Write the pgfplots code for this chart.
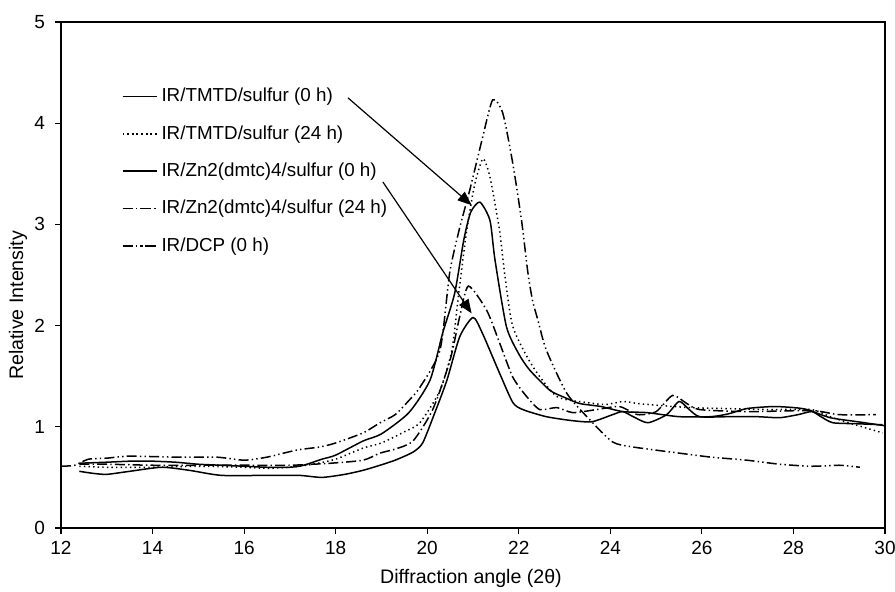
\documentclass[border=0pt]{standalone}
\usepackage{fontspec}
\setmainfont{Liberation Sans}
\usepackage{pgfplots}
\pgfplotsset{compat=1.18}
\usetikzlibrary{arrows.meta}
\begin{document}
\begin{tikzpicture}
\begin{axis}[name=ax,
  scale only axis, width=412pt, height=253pt,
  xmin=12, xmax=30, ymin=0, ymax=5,
  xtick={12,14,...,30}, ytick={0,1,2,3,4,5},
  tick pos=left, tick align=outside, major tick length=3pt,
  axis line style={line width=0.6pt}, every tick/.style={line width=0.6pt, black},
  /pgf/number format/assume math mode=true,
  tick label style={font=\fontsize{9.5}{11}\selectfont},
  yticklabel style={xshift=-1.5pt},
  label style={font=\fontsize{9.8}{11}\selectfont},
  xlabel={Diffraction angle (2θ)}, ylabel={Relative Intensity},
  xlabel style={at={(axis description cs:0.4976,-0.0988)}, anchor=center},
  ylabel style={at={(axis description cs:-0.052,0.44)}, anchor=center},
  legend style={at={(axis cs:13.19,4.43)}, anchor=north west, draw=none, fill=none,
    font=\fontsize{9.4}{11}\selectfont, row sep=6.4pt},
  legend cell align=left,
  every axis plot/.append style={black, line width=0.75pt, smooth, tension=0.4},
]
% IR/TMTD/sulfur (0 h)
\addplot[solid] coordinates {
(12.4,0.64)(13.0,0.65)(13.5,0.66)(14.0,0.66)(14.5,0.65)(15.0,0.63)(15.5,0.62)(16.0,0.61)(16.5,0.60)(17.0,0.60)(17.3,0.62)(17.7,0.68)(18.0,0.72)(18.6,0.86)(19.0,0.93)(19.6,1.14)(20.06,1.46)(20.34,1.93)(20.6,2.32)(20.8,2.85)(20.95,3.12)(21.15,3.22)(21.37,3.04)(21.48,2.65)(21.73,1.99)(22.0,1.72)(22.24,1.56)(22.68,1.36)(23.0,1.29)(23.33,1.23)(23.8,1.20)(24.27,1.15)(24.8,1.14)(25.5,1.10)(26.2,1.10)(26.6,1.13)(26.98,1.18)(27.55,1.20)(28.0,1.19)(28.3,1.17)(28.8,1.09)(29.4,1.05)(30.0,1.01)};
\addlegendentry{IR/TMTD/sulfur (0 h)}
% IR/TMTD/sulfur (24 h)
\addplot[dash pattern=on 0.7pt off 1.6pt] coordinates {
(12.4,0.61)(13.0,0.60)(14.0,0.60)(15.0,0.61)(16.0,0.60)(16.5,0.59)(17.0,0.60)(17.5,0.63)(18.0,0.68)(18.6,0.79)(19.0,0.84)(19.5,0.95)(19.84,1.04)(20.28,1.36)(20.54,1.76)(20.67,2.25)(20.85,2.90)(21.0,3.31)(21.08,3.47)(21.22,3.65)(21.37,3.47)(21.58,2.94)(21.69,2.52)(21.87,1.99)(22.3,1.60)(22.83,1.30)(23.48,1.24)(23.9,1.22)(24.27,1.25)(24.6,1.23)(25.1,1.21)(25.73,1.19)(26.5,1.18)(27.5,1.17)(28.4,1.17)(28.8,1.10)(29.2,1.04)(29.95,0.94)};
\addlegendentry{IR/TMTD/sulfur (24 h)}
% IR/Zn2(dmtc)4/sulfur (0 h)
\addplot[solid] coordinates {
(12.4,0.56)(12.7,0.54)(13.0,0.53)(13.5,0.56)(14.2,0.60)(14.8,0.57)(15.5,0.52)(16.5,0.52)(17.2,0.52)(17.7,0.50)(18.2,0.53)(18.6,0.57)(18.97,0.62)(19.3,0.67)(19.69,0.75)(19.9,0.84)(20.15,1.12)(20.43,1.46)(20.71,1.89)(21.0,2.08)(21.2,1.93)(21.58,1.53)(21.87,1.24)(22.09,1.17)(22.6,1.10)(23.18,1.06)(23.6,1.05)(24.05,1.12)(24.27,1.15)(24.5,1.10)(24.82,1.04)(25.23,1.12)(25.5,1.25)(25.7,1.18)(25.95,1.10)(26.6,1.10)(27.2,1.10)(27.7,1.09)(28.1,1.12)(28.4,1.15)(28.6,1.10)(28.86,1.04)(29.4,1.03)(29.95,1.02)};
\addlegendentry{IR/Zn2(dmtc)4/sulfur (0 h)}
% IR/Zn2(dmtc)4/sulfur (24 h)
\addplot[dash pattern=on 5pt off 1.6pt on 0.7pt off 1.6pt] coordinates {
(12.4,0.63)(13.0,0.63)(14.0,0.62)(15.0,0.62)(16.0,0.62)(17.0,0.62)(17.5,0.63)(17.9,0.64)(18.6,0.67)(18.97,0.74)(19.3,0.78)(19.69,0.86)(20.12,1.17)(20.5,1.66)(20.71,2.09)(20.9,2.39)(21.3,2.15)(21.58,1.83)(21.87,1.49)(22.17,1.30)(22.46,1.17)(22.83,1.19)(23.18,1.14)(23.7,1.17)(24.2,1.20)(24.6,1.12)(25.0,1.15)(25.36,1.31)(25.67,1.23)(25.95,1.17)(27.0,1.15)(28.4,1.16)(29.0,1.12)(29.8,1.12)};
\addlegendentry{IR/Zn2(dmtc)4/sulfur (24 h)}
% IR/DCP (0 h)
\addplot[dash pattern=on 5pt off 1.6pt on 0.7pt off 1.6pt on 0.7pt off 1.6pt] coordinates {
(12.0,0.61)(12.3,0.62)(12.6,0.68)(13.0,0.69)(13.5,0.71)(14.5,0.70)(15.4,0.70)(16.0,0.67)(16.5,0.70)(17.15,0.77)(17.65,0.80)(18.0,0.84)(18.6,0.94)(18.97,1.04)(19.3,1.12)(19.6,1.26)(19.84,1.39)(20.28,1.76)(20.49,2.52)(20.7,2.95)(20.93,3.34)(21.21,3.86)(21.43,4.23)(21.65,4.10)(21.87,3.60)(22.06,3.04)(22.2,2.52)(22.3,2.25)(22.42,2.05)(22.6,1.76)(23.05,1.33)(23.55,1.07)(24.05,0.85)(24.5,0.80)(25.5,0.74)(26.2,0.70)(26.98,0.67)(27.7,0.63)(28.4,0.61)(29.0,0.62)(29.45,0.60)};
\addlegendentry{IR/DCP (0 h)}
\draw[line width=0.6pt, -{Triangle[length=7pt,width=5.5pt]}] (axis cs:18.27,4.25) -- (axis cs:20.97,3.19);
\draw[line width=0.6pt, -{Triangle[length=7pt,width=5.5pt]}] (axis cs:19.03,3.42) -- (axis cs:20.97,2.12);
\end{axis}
\pgfresetboundingbox
\path[use as bounding box] ([xshift=-30.5pt,yshift=-32pt]ax.south west) rectangle ([xshift=5pt,yshift=11pt]ax.north east);
\end{tikzpicture}
\end{document}
